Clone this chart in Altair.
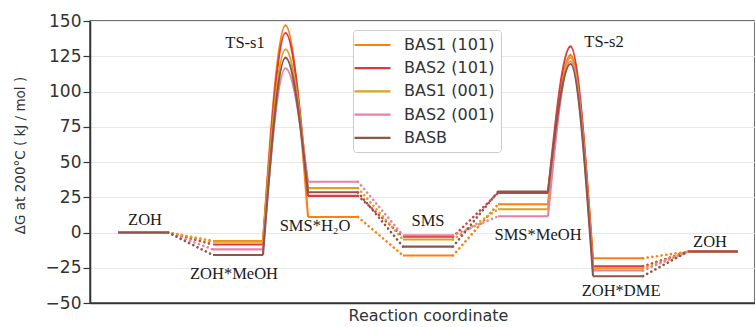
import altair as alt
import pandas as pd

# ---------------- data ----------------
series = ["BAS1 (101)", "BAS2 (101)", "BAS1 (001)", "BAS2 (001)", "BASB"]
colors = ["#ff7f0e", "#dc3a3d", "#dba21d", "#e7819f", "#8c564b"]

# free energies (kJ/mol) of the minima:
# ZOH, ZOH*MeOH, SMS*H2O, SMS, SMS*MeOH, ZOH*DME, ZOH
bas1_101 = [0, -6.0, 11.0, -16.3, 20.0, -18.3, -13.5]
bas2_101 = [0, -8.5, 26.0, -3.0, 28.0, -24.0, -13.5]
bas1_001 = [0, -6.5, 31.5, -5.0, 16.5, -25.5, -13.5]
bas2_001 = [0, -12.0, 36.0, -2.0, 11.5, -27.0, -13.5]
basb = [0, -16.0, 28.5, -10.0, 29.0, -31.0, -13.5]
minima = [bas1_101, bas2_101, bas1_001, bas2_001, basb]

# transition states
ts_s1 = [147.0, 141.5, 130.0, 116.5, 124.0]
ts_s2 = [126.0, 132.0, 124.0, 121.5, 119.5]

# state annotations
state_labels = ["ZOH", "ZOH*MeOH", "TS-s1", "SMS*H\u2082O", "SMS",
                "SMS*MeOH", "TS-s2", "ZOH*DME", "ZOH"]
label_x = [0.284, 1.221, 1.337, 2.074, 3.263, 4.421, 5.116, 5.295, 6.232]
label_y = [5.5, -32.9, 130.6, 1.2, 4.8, -5.2, 131.3, -45.0, -10.2]

# ---------------- geometry of the diagram ----------------
LEVEL_W = 0.526          # width of a level in reaction-coordinate units
TS_AFTER = {1: ts_s1, 4: ts_s2}

solid_rows, dot_rows = [], []
for k, (name, vals) in enumerate(zip(series, minima)):
    for i, v in enumerate(vals):
        seg = f"{name}-L{i}"
        solid_rows.append(dict(series=name, seg=seg, o=0, x=i, y=v))
        solid_rows.append(dict(series=name, seg=seg, o=1, x=i + LEVEL_W, y=v))
        if i == len(vals) - 1:
            continue
        nxt = vals[i + 1]
        if i in TS_AFTER:
            seg = f"{name}-T{i}"
            peak = TS_AFTER[i][k]
            xs = [i + LEVEL_W, (i + LEVEL_W + i + 1) / 2, i + 1]
            ys = [v, peak, nxt]
            for o, (xx, yy) in enumerate(zip(xs, ys)):
                solid_rows.append(dict(series=name, seg=seg, o=o, x=xx, y=yy))
        else:
            seg = f"{name}-D{i}"
            dot_rows.append(dict(series=name, seg=seg, o=0, x=i + LEVEL_W, y=v))
            dot_rows.append(dict(series=name, seg=seg, o=1, x=i + 1, y=nxt))

df_solid = pd.DataFrame(solid_rows)
df_dot = pd.DataFrame(dot_rows)
df_lab = pd.DataFrame(dict(label=state_labels, x=label_x, y=label_y))

xscale = alt.Scale(domain=[-0.295, 6.705], nice=False, zero=False)
yscale = alt.Scale(domain=[-50, 150], nice=False, zero=False)
cscale = alt.Scale(domain=series, range=colors)

x_axis = alt.Axis(title="Reaction coordinate", labels=False, ticks=False,
                  grid=False, domain=True, titleX=338, titleAlign="center",
                  titlePadding=4, titleFontSize=16)
y_axis = alt.Axis(title="\u0394G at 200\u00b0C ( kJ / mol )",
                  values=[-50, -25, 0, 25, 50, 75, 100, 125, 150],
                  format="d", grid=True, tickSize=7, labelPadding=2,
                  labelFontSize=17, titleFontSize=13.5,
                  titleX=-70, titleY=134, titleAngle=270,
                  titleAlign="center", titleBaseline="middle")

x_enc = alt.X("x:Q", scale=xscale, axis=x_axis)
y_enc = alt.Y("y:Q", scale=yscale, axis=y_axis)

legend = alt.Legend(title=None, orient="none", legendX=263, legendY=9)

solid = alt.Chart(df_solid).mark_line(strokeWidth=2.1, interpolate="monotone").encode(
    x=x_enc, y=y_enc,
    color=alt.Color("series:N", scale=cscale, sort=series, legend=legend),
    detail="seg:N", order="o:Q")

dotted = alt.Chart(df_dot).mark_line(strokeWidth=2.6, strokeDash=[0.1, 4.6],
                                     strokeCap="round").encode(
    x=x_enc, y=y_enc,
    color=alt.Color("series:N", scale=cscale, sort=series, legend=legend),
    detail="seg:N", order="o:Q")

labels = alt.Chart(df_lab).mark_text(font="Liberation Serif", fontSize=16.5,
                                     baseline="alphabetic", align="center",
                                     color="#1a1a1a").encode(
    x=x_enc, y=y_enc, text="label:N")

chart = alt.layer(solid, dotted, labels).properties(
    width=665, height=282,
    padding={"left": 90, "top": 21, "right": 0, "bottom": 24},
    autosize=alt.AutoSizeParams(type="none"),
    background="white",
).configure_view(
    stroke="#444", strokeWidth=1.5
).configure_axis(
    domainColor="#333", domainWidth=1.5, tickColor="#333", tickWidth=1.2,
    gridColor="#e8e8e8", gridWidth=1.2,
    labelFont="DejaVu Sans", labelColor="#333",
    titleFont="DejaVu Sans", titleFontWeight="normal", titleColor="#333",
).configure_legend(
    symbolType="M-1.8,0H3", symbolSize=225, symbolStrokeWidth=2.2,
    labelFont="DejaVu Sans", labelFontSize=16, labelColor="#333",
    labelOffset=27, rowPadding=6.2, padding=6, strokeColor="#cccccc",
    fillColor="white", cornerRadius=3, labelLimit=300,
)

chart.save("out.html", embed_options={"renderer": "svg", "actions": False})
